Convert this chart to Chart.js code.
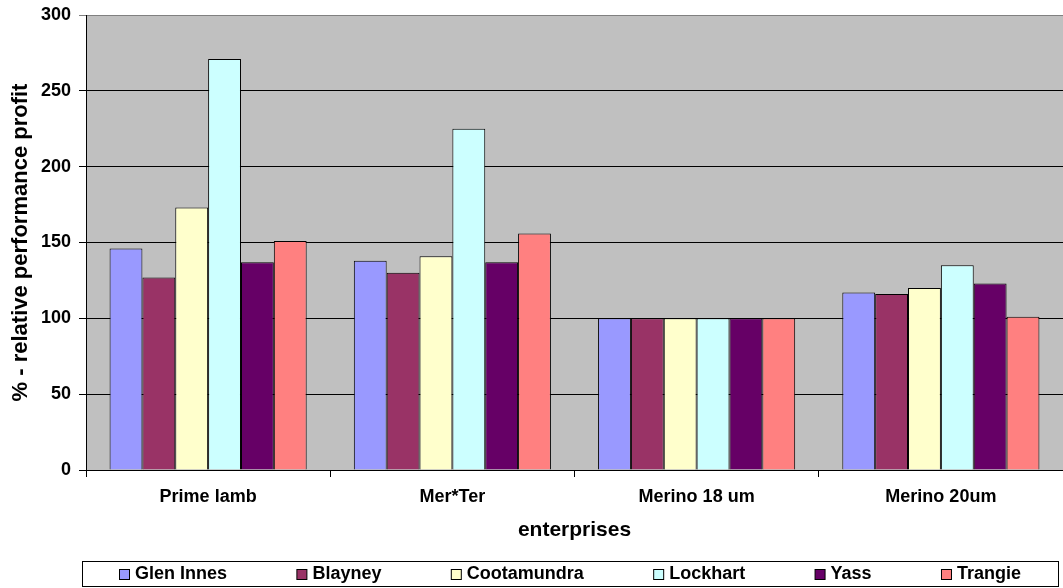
<!DOCTYPE html>
<html>
<head>
<meta charset="utf-8">
<script src="https://cdn.jsdelivr.net/npm/chart.js@4/dist/chart.umd.min.js"></script>
<style>
html,body{margin:0;padding:0;background:#fff;}
canvas{display:block;}
</style>
</head>
<body>
<canvas id="c" width="1063" height="588"></canvas>
<script>
const categories = ["Prime lamb", "Mer*Ter", "Merino 18 um", "Merino 20um"];
const seriesNames = ["Glen Innes", "Blayney", "Cootamundra", "Lockhart", "Yass", "Trangie"];
const glenInnes   = [146, 138, 100, 117];
const blayney     = [127, 130, 100, 116];
const cootamundra = [173, 141, 100, 120];
const lockhart    = [271, 225, 100, 135];
const yass        = [137, 137, 100, 123];
const trangie     = [151, 156, 100, 101];
const yTicks = [0, 50, 100, 150, 200, 250, 300];
const yTitle = "% - relative performance profit";
const xTitle = "enterprises";

const seriesValues = [glenInnes, blayney, cootamundra, lockhart, yass, trangie];
const colors = ["#9999FF", "#993366", "#FFFFCC", "#CCFFFF", "#660066", "#FF8080"];
const FONT = "'Liberation Sans', Arial, sans-serif";

const bgPlugin = {
  id: 'bg',
  beforeDraw(chart) {
    const {ctx, chartArea: a} = chart;
    ctx.save();
    ctx.fillStyle = '#C0C0C0';
    ctx.fillRect(a.left, a.top, a.right - a.left, a.bottom - a.top);
    ctx.restore();
  }
};

const legendPlugin = {
  id: 'boxLegend',
  afterDraw(chart) {
    const ctx = chart.ctx;
    ctx.save();
    const boxL = 82.5, boxR = 1058.5, boxT = 561.5, boxB = 586.5;
    ctx.strokeStyle = '#000';
    ctx.lineWidth = 1;
    ctx.fillStyle = '#fff';
    ctx.fillRect(boxL, boxT, boxR - boxL, boxB - boxT);
    ctx.strokeRect(boxL, boxT, boxR - boxL, boxB - boxT);
    ctx.font = "bold 18px " + FONT;
    ctx.textBaseline = 'middle';
    const sq = 10, gapT = 6;
    const ds = chart.data.datasets;
    const widths = ds.map(d => sq + gapT + ctx.measureText(d.label).width);
    const sum = widths.reduce((a, b) => a + b, 0);
    const start = 119, end = 1021;
    const gap = (end - start - sum) / (ds.length - 1);
    let x = start;
    const cy = 574;
    ds.forEach((d, i) => {
      ctx.fillStyle = d.backgroundColor;
      ctx.fillRect(x + 0.5, cy - 5 + 0.5, sq, sq);
      ctx.strokeStyle = '#000';
      ctx.strokeRect(x + 0.5, cy - 5 + 0.5, sq, sq);
      ctx.fillStyle = '#000';
      ctx.fillText(d.label, x + sq + gapT, cy);
      x += widths[i] + gap;
    });
    ctx.restore();
  }
};

new Chart(document.getElementById('c'), {
  type: 'bar',
  data: {
    labels: categories,
    datasets: seriesNames.map((n, i) => ({
      label: n,
      data: seriesValues[i],
      backgroundColor: colors[i],
      borderColor: '#000',
      borderWidth: 1,
      categoryPercentage: 0.807,
      barPercentage: 1.0
    }))
  },
  options: {
    responsive: false,
    animation: false,
    layout: { padding: { left: 0, right: 0, top: 15, bottom: 38 } },
    plugins: {
      legend: { display: false },
      tooltip: { enabled: false },
      title: { display: false }
    },
    scales: {
      x: {
        grid: { offset: true, drawOnChartArea: false, drawTicks: true, tickLength: 7, color: '#000' },
        border: { color: '#000', width: 1 },
        ticks: { color: '#000', font: { family: FONT, size: 18, weight: 'bold' }, padding: 9, maxRotation: 0 },
        title: { display: true, text: xTitle, color: '#000', font: { family: FONT, size: 21, weight: 'bold' }, padding: { top: 0, bottom: 7 } },
        afterFit(s) { s.height = 80; s.paddingLeft = 0; s.paddingRight = 0; }
      },
      y: {
        min: 0, max: 300,
        afterBuildTicks(s) { s.ticks = yTicks.map(v => ({ value: v })); },
        grid: {
          color: (c) => (c.tick && c.tick.value === 300) ? '#808080' : '#000',
          lineWidth: 1, tickLength: 7, drawTicks: true
        },
        border: { color: '#000', width: 1 },
        ticks: { color: '#000', font: { family: FONT, size: 18, weight: 'bold' }, padding: 8 },
        title: { display: true, text: yTitle, color: '#000', font: { family: FONT, size: 22, weight: 'bold' }, padding: { top: 8, bottom: 0 } },
        afterFit(s) { s.width = 86; s.paddingTop = 0; s.paddingBottom = 0; }
      }
    }
  },
  plugins: [bgPlugin, legendPlugin]
});
</script>
</body>
</html>
